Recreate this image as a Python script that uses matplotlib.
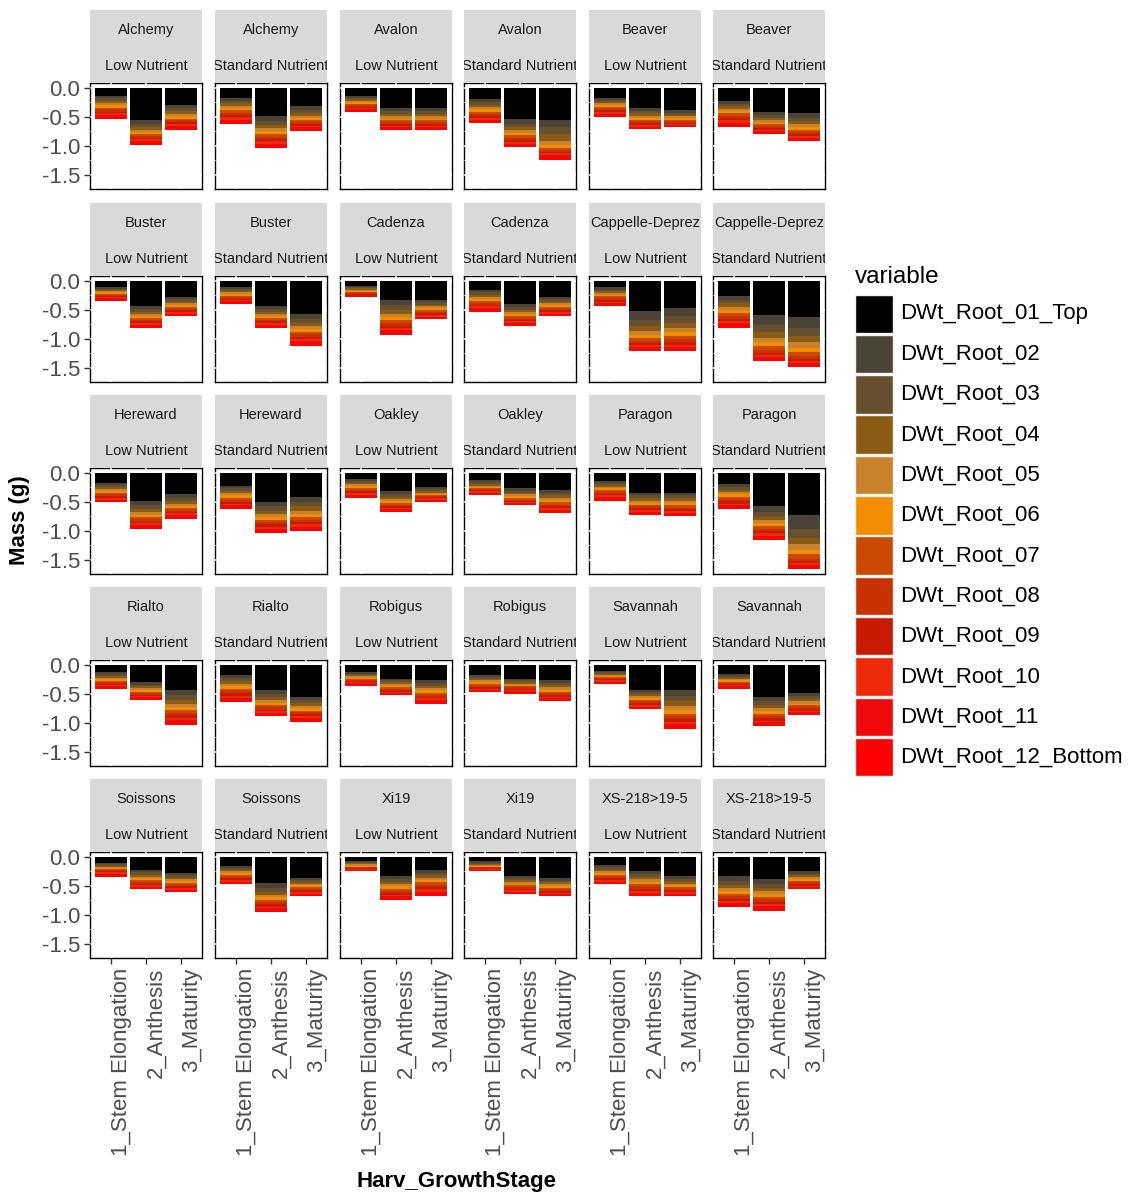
import numpy as np
import matplotlib.pyplot as plt
from matplotlib.patches import Rectangle

plt.rcParams['font.family'] = ['Liberation Sans', 'DejaVu Sans']
plt.rcParams['axes.unicode_minus'] = False

W, H = 1128, 1194

varieties = ["Alchemy", "Avalon", "Beaver", "Buster", "Cadenza", "Cappelle-Deprez",
             "Hereward", "Oakley", "Paragon", "Rialto", "Robigus", "Savannah",
             "Soissons", "Xi19", "XS-218>19-5"]
nutrients = ["Low Nutrient", "Standard Nutrient"]
stages = ["1_Stem Elongation", "2_Anthesis", "3_Maturity"]

layer_names = ["DWt_Root_01_Top", "DWt_Root_02", "DWt_Root_03", "DWt_Root_04",
               "DWt_Root_05", "DWt_Root_06", "DWt_Root_07", "DWt_Root_08",
               "DWt_Root_09", "DWt_Root_10", "DWt_Root_11", "DWt_Root_12_Bottom"]
layer_colors = ["#000000", "#4b4336", "#66502f", "#8b5a14", "#c8822a", "#f28c00",
                "#cc4a00", "#c83200", "#c81a00", "#ee2a0a", "#ee0a0a", "#ff0000"]

# root mass per layer (g), 3 stages per panel, panels in facet order
root_01 = [0.14,0.56,0.29, 0.18,0.49,0.32, 0.14,0.35,0.35, 0.20,0.54,0.56, 0.17,0.35,0.39, 0.23,0.42,0.44,
           0.11,0.43,0.28, 0.11,0.43,0.57, 0.09,0.33,0.33, 0.16,0.40,0.28, 0.11,0.52,0.47, 0.26,0.59,0.62,
           0.17,0.48,0.37, 0.22,0.50,0.41, 0.10,0.31,0.25, 0.13,0.27,0.29, 0.14,0.34,0.34, 0.19,0.58,0.73,
           0.13,0.30,0.43, 0.18,0.43,0.55, 0.13,0.24,0.26, 0.17,0.24,0.26, 0.11,0.43,0.43, 0.16,0.55,0.49,
           0.10,0.23,0.28, 0.15,0.45,0.36, 0.07,0.33,0.23, 0.08,0.33,0.37, 0.14,0.25,0.33, 0.33,0.38,0.25]
root_02 = [0.04,0.06,0.06, 0.05,0.08,0.06, 0.03,0.05,0.05, 0.05,0.08,0.11, 0.04,0.05,0.04, 0.05,0.05,0.08,
           0.03,0.05,0.04, 0.03,0.05,0.08, 0.02,0.09,0.04, 0.04,0.05,0.04, 0.04,0.15,0.14, 0.07,0.17,0.19,
           0.04,0.08,0.06, 0.05,0.08,0.09, 0.04,0.05,0.03, 0.03,0.04,0.05, 0.04,0.05,0.05, 0.05,0.10,0.23,
           0.03,0.04,0.09, 0.05,0.07,0.06, 0.03,0.03,0.05, 0.04,0.03,0.05, 0.02,0.04,0.11, 0.03,0.08,0.05,
           0.03,0.04,0.04, 0.04,0.08,0.04, 0.02,0.05,0.05, 0.02,0.04,0.04, 0.04,0.05,0.05, 0.08,0.08,0.04]
root_03 = [0.04,0.05,0.05, 0.04,0.07,0.05, 0.03,0.05,0.05, 0.04,0.06,0.13, 0.03,0.04,0.03, 0.04,0.05,0.06,
           0.02,0.05,0.04, 0.03,0.05,0.07, 0.02,0.08,0.04, 0.04,0.05,0.04, 0.03,0.10,0.11, 0.06,0.12,0.14,
           0.04,0.06,0.05, 0.04,0.07,0.08, 0.03,0.05,0.03, 0.03,0.03,0.05, 0.03,0.05,0.05, 0.05,0.08,0.16,
           0.03,0.03,0.08, 0.05,0.06,0.05, 0.02,0.03,0.05, 0.03,0.03,0.04, 0.02,0.04,0.09, 0.03,0.07,0.05,
           0.02,0.04,0.04, 0.03,0.07,0.03, 0.02,0.05,0.04, 0.02,0.03,0.03, 0.04,0.05,0.04, 0.07,0.07,0.03]
root_04 = [0.04,0.05,0.05, 0.04,0.06,0.05, 0.03,0.04,0.04, 0.04,0.05,0.11, 0.03,0.04,0.03, 0.04,0.04,0.05,
           0.02,0.04,0.03, 0.03,0.04,0.06, 0.02,0.07,0.03, 0.04,0.04,0.03, 0.03,0.09,0.09, 0.06,0.10,0.11,
           0.03,0.05,0.05, 0.04,0.06,0.07, 0.03,0.04,0.03, 0.03,0.03,0.04, 0.03,0.04,0.04, 0.04,0.06,0.11,
           0.03,0.03,0.07, 0.05,0.05,0.05, 0.02,0.03,0.04, 0.03,0.03,0.04, 0.02,0.03,0.08, 0.03,0.05,0.04,
           0.02,0.03,0.03, 0.03,0.05,0.03, 0.02,0.04,0.04, 0.02,0.03,0.03, 0.03,0.04,0.04, 0.06,0.06,0.03]
root_05 = [0.04,0.04,0.04, 0.04,0.05,0.04, 0.02,0.04,0.04, 0.04,0.05,0.07, 0.03,0.04,0.03, 0.04,0.04,0.05,
           0.02,0.04,0.03, 0.03,0.04,0.05, 0.02,0.06,0.03, 0.04,0.04,0.03, 0.03,0.07,0.08, 0.05,0.08,0.09,
           0.03,0.05,0.04, 0.04,0.05,0.06, 0.03,0.04,0.02, 0.02,0.03,0.04, 0.03,0.04,0.04, 0.04,0.05,0.10,
           0.03,0.03,0.06, 0.04,0.04,0.04, 0.02,0.03,0.04, 0.03,0.02,0.04, 0.02,0.03,0.07, 0.02,0.05,0.04,
           0.02,0.03,0.03, 0.03,0.05,0.03, 0.02,0.04,0.04, 0.02,0.03,0.03, 0.03,0.04,0.03, 0.05,0.05,0.03]
root_06 = [0.04,0.04,0.04, 0.04,0.05,0.04, 0.03,0.03,0.03, 0.04,0.04,0.05, 0.03,0.03,0.03, 0.04,0.03,0.04,
           0.02,0.03,0.03, 0.03,0.03,0.05, 0.02,0.05,0.03, 0.03,0.03,0.03, 0.03,0.05,0.06, 0.05,0.07,0.07,
           0.03,0.04,0.04, 0.04,0.05,0.05, 0.03,0.03,0.02, 0.02,0.03,0.04, 0.03,0.03,0.04, 0.04,0.05,0.07,
           0.03,0.03,0.05, 0.04,0.04,0.04, 0.02,0.03,0.04, 0.03,0.02,0.03, 0.02,0.03,0.06, 0.02,0.04,0.03,
           0.02,0.03,0.03, 0.03,0.04,0.03, 0.02,0.04,0.04, 0.01,0.03,0.03, 0.03,0.04,0.03, 0.05,0.05,0.03]
root_07 = [0.03,0.03,0.03, 0.04,0.04,0.03, 0.02,0.03,0.03, 0.04,0.04,0.04, 0.03,0.03,0.03, 0.04,0.03,0.04,
           0.02,0.03,0.03, 0.02,0.03,0.04, 0.02,0.05,0.03, 0.03,0.03,0.03, 0.03,0.05,0.06, 0.05,0.06,0.07,
           0.03,0.04,0.03, 0.04,0.04,0.05, 0.03,0.03,0.02, 0.02,0.03,0.04, 0.03,0.03,0.04, 0.04,0.04,0.08,
           0.02,0.03,0.05, 0.04,0.04,0.03, 0.02,0.02,0.04, 0.03,0.02,0.03, 0.02,0.03,0.05, 0.02,0.04,0.03,
           0.02,0.03,0.03, 0.03,0.04,0.03, 0.01,0.04,0.04, 0.01,0.03,0.03, 0.03,0.04,0.03, 0.04,0.04,0.03]
root_08 = [0.04,0.03,0.03, 0.04,0.04,0.03, 0.03,0.03,0.03, 0.04,0.04,0.03, 0.03,0.03,0.02, 0.04,0.03,0.04,
           0.02,0.03,0.03, 0.03,0.03,0.04, 0.02,0.04,0.03, 0.03,0.03,0.03, 0.03,0.04,0.05, 0.05,0.05,0.05,
           0.03,0.04,0.03, 0.03,0.04,0.04, 0.03,0.03,0.02, 0.02,0.02,0.03, 0.03,0.03,0.03, 0.04,0.04,0.04,
           0.03,0.03,0.04, 0.04,0.04,0.03, 0.02,0.03,0.03, 0.03,0.02,0.03, 0.02,0.03,0.05, 0.02,0.04,0.03,
           0.02,0.03,0.03, 0.03,0.04,0.03, 0.02,0.03,0.04, 0.02,0.03,0.03, 0.03,0.04,0.03, 0.04,0.04,0.03]
root_09 = [0.03,0.03,0.03, 0.04,0.04,0.03, 0.02,0.03,0.03, 0.03,0.03,0.03, 0.03,0.03,0.02, 0.04,0.03,0.03,
           0.02,0.03,0.03, 0.02,0.03,0.04, 0.01,0.04,0.03, 0.03,0.03,0.03, 0.03,0.04,0.04, 0.04,0.04,0.04,
           0.03,0.03,0.03, 0.03,0.04,0.04, 0.03,0.03,0.02, 0.02,0.02,0.03, 0.03,0.03,0.03, 0.04,0.04,0.04,
           0.02,0.02,0.04, 0.04,0.03,0.03, 0.02,0.02,0.03, 0.02,0.02,0.03, 0.02,0.03,0.04, 0.02,0.04,0.03,
           0.02,0.03,0.03, 0.03,0.04,0.03, 0.01,0.03,0.04, 0.01,0.03,0.03, 0.03,0.04,0.03, 0.04,0.04,0.03]
root_10 = [0.03,0.03,0.03, 0.04,0.04,0.03, 0.02,0.02,0.02, 0.03,0.03,0.03, 0.03,0.03,0.02, 0.04,0.03,0.03,
           0.02,0.03,0.03, 0.02,0.03,0.04, 0.01,0.04,0.03, 0.03,0.03,0.03, 0.03,0.03,0.04, 0.04,0.03,0.03,
           0.03,0.03,0.03, 0.03,0.03,0.04, 0.03,0.02,0.02, 0.02,0.02,0.03, 0.03,0.03,0.03, 0.03,0.04,0.03,
           0.02,0.02,0.04, 0.04,0.03,0.03, 0.02,0.02,0.03, 0.02,0.02,0.03, 0.02,0.03,0.04, 0.02,0.03,0.02,
           0.02,0.03,0.03, 0.03,0.03,0.03, 0.01,0.03,0.04, 0.01,0.02,0.02, 0.03,0.03,0.03, 0.03,0.04,0.02]
root_11 = [0.03,0.03,0.03, 0.04,0.04,0.03, 0.02,0.02,0.02, 0.03,0.03,0.03, 0.03,0.02,0.02, 0.04,0.02,0.03,
           0.02,0.02,0.02, 0.02,0.03,0.04, 0.01,0.04,0.02, 0.03,0.02,0.02, 0.03,0.03,0.03, 0.04,0.03,0.03,
           0.02,0.03,0.03, 0.03,0.03,0.04, 0.03,0.02,0.02, 0.02,0.02,0.03, 0.03,0.02,0.03, 0.03,0.03,0.03,
           0.02,0.02,0.04, 0.03,0.03,0.03, 0.02,0.02,0.03, 0.02,0.02,0.02, 0.02,0.02,0.04, 0.02,0.03,0.02,
           0.02,0.02,0.02, 0.02,0.03,0.02, 0.01,0.03,0.04, 0.01,0.02,0.02, 0.02,0.03,0.02, 0.03,0.04,0.02]
root_12 = [0.03,0.04,0.04, 0.04,0.04,0.04, 0.02,0.03,0.03, 0.03,0.03,0.05, 0.03,0.02,0.02, 0.04,0.03,0.03,
           0.03,0.03,0.02, 0.03,0.03,0.04, 0.02,0.04,0.02, 0.04,0.03,0.02, 0.02,0.04,0.04, 0.04,0.04,0.05,
           0.02,0.03,0.03, 0.03,0.04,0.04, 0.02,0.03,0.02, 0.02,0.02,0.03, 0.03,0.03,0.03, 0.03,0.04,0.04,
           0.02,0.02,0.04, 0.04,0.03,0.04, 0.02,0.02,0.03, 0.02,0.03,0.02, 0.02,0.02,0.04, 0.02,0.03,0.03,
           0.03,0.02,0.02, 0.02,0.03,0.02, 0.02,0.03,0.04, 0.02,0.02,0.02, 0.02,0.03,0.02, 0.04,0.04,0.02]

layers = [root_01, root_02, root_03, root_04, root_05, root_06,
          root_07, root_08, root_09, root_10, root_11, root_12]


def fx(px):
    return px / W


def fy(py):
    return 1 - py / H


fig = plt.figure(figsize=(W / 100, H / 100), dpi=100)

col_left = [90, 215, 340, 464, 589, 713]
panel_w = 112
row_top = [83, 276, 468, 660, 852]
panel_h = 106
strip_h = 73
x = np.arange(1, 4)

for p in range(30):
    r, c = p // 6, p % 6
    x0, y0 = col_left[c], row_top[r]
    ax = fig.add_axes([fx(x0), fy(y0 + panel_h), panel_w / W, panel_h / H])

    bottom = np.zeros(3)
    for k in range(12):
        vals = -np.array(layers[k][3 * p:3 * p + 3])
        ax.bar(x, vals, bottom=bottom, width=0.9, color=layer_colors[k], linewidth=0, zorder=1)
        bottom = bottom + vals

    ax.set_xlim(0.4, 3.6)
    ax.set_ylim(-1.743, 0.083)
    ax.set_xticks(x)
    ax.set_yticks([0, -0.5, -1.0, -1.5])
    ax.set_yticks([-0.25, -0.75, -1.25], minor=True)
    ax.set_axisbelow(True)
    ax.grid(True, which='major', color='white', linewidth=1.1)
    ax.grid(True, which='minor', axis='y', color='white', linewidth=0.5)
    for s in ax.spines.values():
        s.set_color('black')
        s.set_linewidth(1.0)
        s.set_zorder(0.4)
    ax.tick_params(which='minor', length=0)
    ax.tick_params(which='major', length=4, width=1, color='#333333',
                   labelsize=16, labelcolor='#4d4d4d', pad=3)
    if c == 0:
        ax.set_yticklabels(["0.0", "-0.5", "-1.0", "-1.5"])
    else:
        ax.tick_params(axis='y', length=0, labelleft=False)
    if r == 4:
        ax.set_xticklabels(stages, rotation=90, ha='left', va='top')
    else:
        ax.tick_params(axis='x', length=0, labelbottom=False)

    # facet strip
    sx = fig.add_axes([fx(x0), fy(y0), panel_w / W, strip_h / H])
    sx.set_facecolor('#d9d9d9')
    sx.set_xticks([])
    sx.set_yticks([])
    for s in sx.spines.values():
        s.set_visible(False)
    sx.text(0.5, 0.73, varieties[p // 2], ha='center', va='center', fontsize=10.5,
            color='#1a1a1a', transform=sx.transAxes, clip_on=True)
    sx.text(0.5, 0.23, nutrients[p % 2], ha='center', va='center', fontsize=10.5,
            color='#1a1a1a', transform=sx.transAxes, clip_on=True)

fig.text(fx(457), fy(1182), "Harv_GrowthStage", ha='center', va='center',
         fontsize=16, fontweight='bold')
fig.text(fx(20), fy(520), "Mass (g)", ha='center', va='center', rotation=90,
         fontsize=16, fontweight='bold')

# legend
lg = fig.add_axes([fx(845), fy(790), (1128 - 845) / W, (790 - 250) / H])
lg.set_xlim(845, 1128)
lg.set_ylim(790, 250)
lg.axis('off')
lg.text(855, 277, "variable", ha='left', va='center', fontsize=17.5)
for k in range(12):
    top = 294.5 + 40.3 * k
    lg.add_patch(Rectangle((855, top), 38, 38.5, facecolor=layer_colors[k],
                           edgecolor='#f2f2f2', linewidth=1))
    lg.text(900, top + 19.5, layer_names[k], ha='left', va='center', fontsize=16)

fig.savefig("out.png", dpi=100)
